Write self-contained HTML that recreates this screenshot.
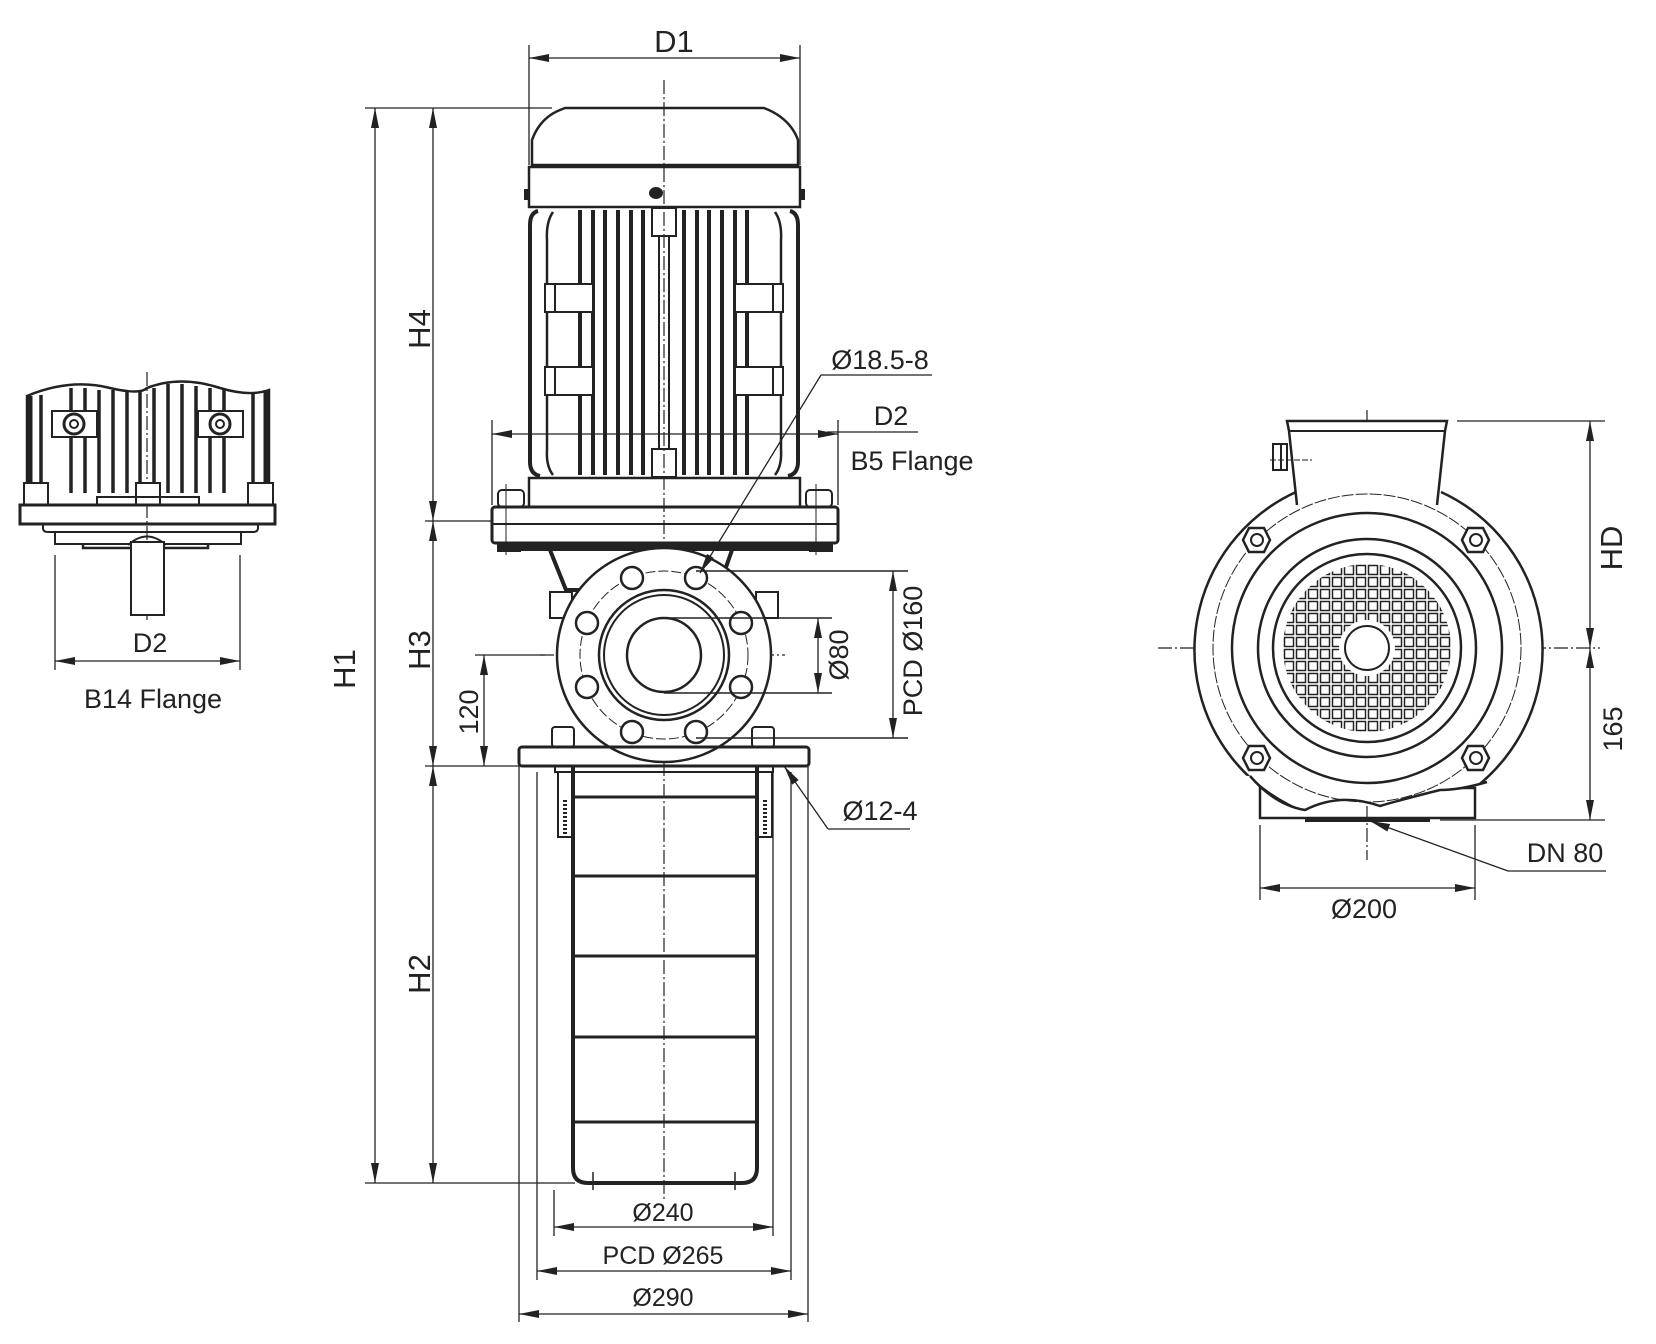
<!DOCTYPE html>
<html><head><meta charset="utf-8"><style>
html,body{margin:0;padding:0;background:#fff}
svg{display:block}
text{font-family:"Liberation Sans",Arial,sans-serif;fill:#222}
</style></head><body>
<svg width="1656" height="1344" viewBox="0 0 1656 1344" xmlns="http://www.w3.org/2000/svg">
<defs>
<marker id="b" viewBox="0 0 20 8" refX="20" refY="4" markerWidth="20" markerHeight="8" orient="auto-start-reverse" markerUnits="userSpaceOnUse"><path d="M0,0 L20,4 L0,8 z" fill="#222"/></marker>
<pattern id="grid" x="1283" y="564" width="12" height="12" patternUnits="userSpaceOnUse"><rect x="1.5" y="1.5" width="9" height="9" fill="#fff" stroke="#222" stroke-width="1.5"/></pattern>
<clipPath id="gc"><circle cx="1367" cy="648" r="84"/></clipPath>
<clipPath id="wc"><path d="M1100,380 L1650,380 L1650,780 L1487,782 Q1460,790 1440,790 Q1400,800 1380,806 Q1340,792 1305,810 Q1275,805 1250,776 L1100,770 Z"/></clipPath>
</defs>
<g fill="none" stroke="#222" stroke-width="2">

<g stroke-width="1.2" stroke-dasharray="14 3 2 3">
<line x1="664" y1="80" x2="664" y2="1200"/>
<line x1="147" y1="372" x2="147" y2="620"/>
<line x1="1367" y1="410" x2="1367" y2="860"/>
<line x1="1158" y1="648" x2="1600" y2="648"/>
<line x1="540" y1="655" x2="785" y2="655"/>
</g>

<path d="M532,165 L532,140 Q540,118 560,110 L565,108 L764,108 Q790,118 798,140 L798,165 Z" stroke-width="2.5"/>
<rect x="529" y="167" width="271" height="40" stroke-width="2.5"/>
<ellipse cx="656" cy="193" rx="6" ry="5" fill="#222"/>
<rect x="525" y="190" width="4" height="9" fill="#222"/><rect x="800" y="190" width="4" height="9" fill="#222"/>
<path d="M538,211 Q530,213 530,225 L530,462 Q530,474 540,476" stroke-width="4"/>
<path d="M790,211 Q798,213 798,225 L798,462 Q798,474 788,476" stroke-width="4"/>
<path d="M553,212 Q546,222 547,240 L547,450 Q546,466 553,475" stroke-width="2.5"/>
<path d="M775,212 Q782,222 781,240 L781,450 Q782,466 775,475" stroke-width="2.5"/>
<g stroke-width="4">
<line x1="580" y1="210" x2="580" y2="475"/><line x1="593" y1="210" x2="593" y2="475"/><line x1="605" y1="210" x2="605" y2="475"/><line x1="618" y1="210" x2="618" y2="475"/><line x1="631" y1="210" x2="631" y2="475"/><line x1="643" y1="210" x2="643" y2="475"/>
<line x1="684" y1="210" x2="684" y2="475"/><line x1="697" y1="210" x2="697" y2="475"/><line x1="709" y1="210" x2="709" y2="475"/><line x1="722" y1="210" x2="722" y2="475"/><line x1="735" y1="210" x2="735" y2="475"/><line x1="747" y1="210" x2="747" y2="475"/>
</g>
<rect x="652" y="208" width="24" height="28"/><rect x="652" y="449" width="24" height="28"/>
<line x1="659" y1="236" x2="659" y2="449"/><line x1="669" y1="236" x2="669" y2="449"/>
<rect x="545" y="284" width="48" height="28" fill="#fff"/><rect x="545" y="367" width="48" height="28" fill="#fff"/>
<rect x="735" y="284" width="48" height="28" fill="#fff"/><rect x="735" y="367" width="48" height="28" fill="#fff"/>
<line x1="555" y1="284" x2="555" y2="312"/><line x1="555" y1="367" x2="555" y2="395"/>
<line x1="773" y1="284" x2="773" y2="312"/><line x1="773" y1="367" x2="773" y2="395"/>
<rect x="529" y="478" width="271" height="29" stroke-width="2.5"/>
<rect x="492" y="507" width="346" height="36" rx="3" stroke-width="3"/>
<line x1="492" y1="524" x2="838" y2="524"/>
<rect x="498" y="490" width="26" height="17" rx="4"/><rect x="806" y="490" width="26" height="17" rx="4"/>
<line x1="506" y1="484" x2="506" y2="555" stroke-width="1"/><line x1="816" y1="484" x2="816" y2="555" stroke-width="1"/>
<rect x="498" y="543" width="22" height="8" fill="#222"/><rect x="810" y="543" width="22" height="8" fill="#222"/>
<rect x="520" y="545" width="290" height="5" fill="#222"/>
<path d="M550,550 L566,590 L580,590 M732,550 L718,590 L704,590" stroke-width="4"/>
<rect x="550" y="592" width="22" height="26"/><rect x="756" y="592" width="22" height="26"/>

<circle cx="664" cy="655" r="107" fill="#fff" stroke-width="2.5"/>
<circle cx="664" cy="655" r="84" stroke-width="1" stroke-dasharray="10 3"/>
<circle cx="664" cy="655" r="65" stroke-width="2.5"/>
<circle cx="664" cy="655" r="60" stroke-width="2"/>
<circle cx="664" cy="655" r="37" stroke-width="2.5"/>
<g stroke-width="2.5" fill="#fff">
<circle cx="696" cy="578" r="11"/><circle cx="632" cy="578" r="11"/>
<circle cx="741" cy="623" r="11"/><circle cx="741" cy="687" r="11"/>
<circle cx="696" cy="732" r="11"/><circle cx="632" cy="732" r="11"/>
<circle cx="587" cy="687" r="11"/><circle cx="587" cy="623" r="11"/>
</g>
<line x1="664" y1="618" x2="832" y2="618" stroke-width="1.5"/>
<line x1="664" y1="693" x2="832" y2="693" stroke-width="1.5"/>
<line x1="696" y1="571" x2="908" y2="571" stroke-width="1.5"/>
<line x1="696" y1="738" x2="908" y2="738" stroke-width="1.5"/>

<rect x="519" y="747" width="290" height="19" rx="3" stroke-width="3"/>
<rect x="552" y="727" width="22" height="20" rx="3"/><rect x="752" y="727" width="22" height="20" rx="3"/>
<rect x="555" y="766" width="218" height="6"/>
<path d="M573,766 L573,1168 Q573,1183 588,1183 L742,1183 Q757,1183 757,1168 L757,766" stroke-width="4"/>
<line x1="573" y1="797" x2="757" y2="797" stroke-width="3"/>
<line x1="573" y1="876" x2="757" y2="876" stroke-width="3"/>
<line x1="573" y1="956" x2="757" y2="956" stroke-width="3"/>
<line x1="573" y1="1037" x2="757" y2="1037" stroke-width="3"/>
<line x1="573" y1="1122" x2="757" y2="1122" stroke-width="3"/>
<rect x="558" y="772" width="14" height="65"/><rect x="758" y="772" width="14" height="65"/>
<line x1="565" y1="800" x2="565" y2="835" stroke-width="4" stroke-dasharray="2 2"/>
<line x1="765" y1="800" x2="765" y2="835" stroke-width="4" stroke-dasharray="2 2"/>
<line x1="593" y1="1172" x2="593" y2="1190" stroke-width="1.5"/><line x1="735" y1="1172" x2="735" y2="1190" stroke-width="1.5"/>

<g stroke-width="1.3">
<line x1="529" y1="45" x2="529" y2="165"/><line x1="800" y1="45" x2="800" y2="165"/>
<line x1="529" y1="58" x2="800" y2="58" marker-start="url(#b)" marker-end="url(#b)"/>
<line x1="365" y1="108" x2="552" y2="108"/>
<line x1="375" y1="108" x2="375" y2="1183" marker-start="url(#b)" marker-end="url(#b)"/>
<line x1="433" y1="108" x2="433" y2="521" marker-start="url(#b)" marker-end="url(#b)"/>
<line x1="433" y1="521" x2="433" y2="766" marker-start="url(#b)" marker-end="url(#b)"/>
<line x1="433" y1="766" x2="433" y2="1183" marker-start="url(#b)" marker-end="url(#b)"/>
<line x1="425" y1="521" x2="492" y2="521"/>
<line x1="425" y1="766" x2="519" y2="766"/>
<line x1="365" y1="1183" x2="575" y2="1183"/>
<line x1="475" y1="655" x2="545" y2="655"/>
<line x1="484" y1="655" x2="484" y2="766" marker-start="url(#b)" marker-end="url(#b)"/>
<line x1="818" y1="618" x2="818" y2="693" marker-start="url(#b)" marker-end="url(#b)"/>
<line x1="893" y1="571" x2="893" y2="738" marker-start="url(#b)" marker-end="url(#b)"/>
<line x1="492" y1="420" x2="492" y2="505"/><line x1="838" y1="420" x2="838" y2="505"/>
<line x1="492" y1="434" x2="838" y2="434" marker-start="url(#b)" marker-end="url(#b)"/>
<line x1="827" y1="432" x2="918" y2="432"/>
<line x1="821" y1="375" x2="932" y2="375"/>
<line x1="821" y1="375" x2="700" y2="573" marker-end="url(#b)"/>
<line x1="784" y1="766" x2="828" y2="829" marker-start="url(#b)"/>
<line x1="828" y1="829" x2="910" y2="829"/>
<line x1="554" y1="1190" x2="554" y2="1236"/><line x1="773" y1="772" x2="773" y2="1236"/>
<line x1="554" y1="1227" x2="773" y2="1227" marker-start="url(#b)" marker-end="url(#b)"/>
<line x1="537" y1="772" x2="537" y2="1280"/><line x1="791" y1="772" x2="791" y2="1280"/>
<line x1="537" y1="1271" x2="791" y2="1271" marker-start="url(#b)" marker-end="url(#b)"/>
<line x1="519" y1="766" x2="519" y2="1322"/><line x1="808" y1="766" x2="808" y2="1322"/>
<line x1="519" y1="1314" x2="808" y2="1314" marker-start="url(#b)" marker-end="url(#b)"/>
</g>

<path d="M27,505 L27,396 Q70,378 110,388 Q140,395 147,388 Q180,375 220,388 Q250,397 269,390 L269,505" stroke-width="2.5"/>
<line x1="30" y1="396" x2="30" y2="483" stroke-width="5"/><line x1="266" y1="390" x2="266" y2="483" stroke-width="5"/>
<g stroke-width="3.5">
<line x1="41" y1="395" x2="41" y2="483"/><line x1="71" y1="388" x2="71" y2="493"/><line x1="85" y1="388" x2="85" y2="493"/><line x1="99" y1="390" x2="99" y2="493"/><line x1="113" y1="390" x2="113" y2="493"/><line x1="127" y1="392" x2="127" y2="493"/><line x1="140" y1="390" x2="140" y2="493"/>
<line x1="154" y1="388" x2="154" y2="493"/><line x1="168" y1="384" x2="168" y2="493"/><line x1="182" y1="384" x2="182" y2="493"/><line x1="196" y1="386" x2="196" y2="493"/><line x1="210" y1="388" x2="210" y2="493"/><line x1="224" y1="390" x2="224" y2="493"/><line x1="253" y1="392" x2="253" y2="483"/>
</g>
<rect x="52" y="411" width="45" height="26" fill="#fff"/><circle cx="74" cy="424" r="10" stroke-width="3" fill="#fff"/><circle cx="74" cy="424" r="4"/>
<rect x="198" y="411" width="45" height="26" fill="#fff"/><circle cx="220" cy="424" r="10" stroke-width="3" fill="#fff"/><circle cx="220" cy="424" r="4"/>
<rect x="24" y="483" width="24" height="22" fill="#fff"/><rect x="136" y="483" width="24" height="22" fill="#fff"/><rect x="248" y="483" width="25" height="22" fill="#fff"/>
<rect x="97" y="497" width="102" height="8"/>
<rect x="20" y="505" width="255" height="19" stroke-width="3"/>
<path d="M43,524 L43,528 Q43,532 48,532 L253,532 Q258,532 258,528 L258,524"/>
<path d="M55,532 L55,544 L241,544 L241,532"/>
<path d="M83,544 L83,548 L208,548 L208,544" stroke-width="2.5"/>
<path d="M128,545 Q147,528 166,545"/>
<rect x="131" y="542" width="33" height="73" fill="#fff"/>
<g stroke-width="1.3">
<line x1="55" y1="555" x2="55" y2="670"/><line x1="240" y1="555" x2="240" y2="670"/>
<line x1="55" y1="661" x2="240" y2="661" marker-start="url(#b)" marker-end="url(#b)"/>
</g>

<rect x="1260" y="788" width="215" height="30" stroke-width="2.5"/>
<line x1="1305" y1="820" x2="1430" y2="820" stroke-width="4"/>
<g clip-path="url(#wc)">
<path d="M1296,492 A174,174 0 1 0 1441,492" stroke-width="2.5" fill="#fff"/>
</g>
<path d="M1250,776 Q1275,805 1305,810 Q1340,792 1380,806 Q1400,800 1440,790 Q1460,790 1487,782" stroke-width="2.5"/>
<path d="M1297,505 L1289,431 L1287,421 L1447,421 L1445,431 L1437,505" stroke-width="2.5" fill="#fff"/>
<line x1="1289" y1="431" x2="1445" y2="431"/>
<rect x="1273" y="444" width="8" height="26"/><rect x="1281" y="444" width="6" height="26"/>
<line x1="1270" y1="460" x2="1312" y2="460" stroke-width="1" stroke-dasharray="6 2"/>
<circle cx="1367" cy="648" r="154" stroke-width="1" stroke-dasharray="12 2"/>
<circle cx="1367" cy="648" r="135" stroke-width="2.5"/>
<circle cx="1367" cy="648" r="109" stroke-width="2.5"/>
<circle cx="1367" cy="648" r="94" stroke-width="2.5"/>
<rect x="1283" y="564" width="168" height="168" fill="url(#grid)" stroke="none" clip-path="url(#gc)"/>
<circle cx="1367" cy="648" r="28" fill="#fff" stroke="none"/>
<circle cx="1367" cy="648" r="22" fill="#fff" stroke-width="2"/>
<g stroke-width="2.5" fill="#fff">
<polygon points="1249,528 1264,528 1270,540 1264,552 1249,552 1243,540"/>
<polygon points="1468,528 1483,528 1489,540 1483,552 1468,552 1462,540"/>
<polygon points="1249,746 1264,746 1270,758 1264,770 1249,770 1243,758"/>
<polygon points="1468,746 1483,746 1489,758 1483,770 1468,770 1462,758"/>
</g>
<g stroke-width="2"><circle cx="1257" cy="540" r="6"/><circle cx="1476" cy="540" r="6"/><circle cx="1257" cy="758" r="6"/><circle cx="1476" cy="758" r="6"/></g>
<g stroke-width="1.3">
<line x1="1457" y1="421" x2="1605" y2="421"/>
<line x1="1440" y1="820" x2="1605" y2="820"/>
<line x1="1590" y1="421" x2="1590" y2="648" marker-start="url(#b)" marker-end="url(#b)"/>
<line x1="1590" y1="648" x2="1590" y2="820" marker-start="url(#b)" marker-end="url(#b)"/>
<line x1="1260" y1="825" x2="1260" y2="900"/><line x1="1475" y1="825" x2="1475" y2="900"/>
<line x1="1260" y1="888" x2="1475" y2="888" marker-start="url(#b)" marker-end="url(#b)"/>
<line x1="1508" y1="871" x2="1370" y2="821" marker-end="url(#b)"/>
<line x1="1508" y1="871" x2="1606" y2="871"/>
</g>
</g>

<g font-size="31">
<text x="674" y="52" text-anchor="middle">D1</text>
<text transform="translate(355,669) rotate(-90)" text-anchor="middle">H1</text>
<text transform="translate(430,329) rotate(-90)" text-anchor="middle">H4</text>
<text transform="translate(430,650) rotate(-90)" text-anchor="middle">H3</text>
<text transform="translate(430,974) rotate(-90)" text-anchor="middle">H2</text>
<text transform="translate(1622,548) rotate(-90)" text-anchor="middle">HD</text>
</g>
<g font-size="27">
<text transform="translate(478,712) rotate(-90)" text-anchor="middle">120</text>
<text transform="translate(848,655) rotate(-90)" text-anchor="middle">Ø80</text>
<text transform="translate(922,651) rotate(-90)" text-anchor="middle">PCD Ø160</text>
<text transform="translate(1622,729) rotate(-90)" text-anchor="middle">165</text>
<text x="880" y="369" text-anchor="middle">Ø18.5-8</text>
<text x="891" y="425" text-anchor="middle">D2</text>
<text x="912" y="470" text-anchor="middle">B5 Flange</text>
<text x="880" y="820" text-anchor="middle">Ø12-4</text>
<text x="150" y="652" text-anchor="middle">D2</text>
<text x="153" y="708" text-anchor="middle">B14 Flange</text>
<text x="1565" y="862" text-anchor="middle">DN 80</text>
<text x="1364" y="918" text-anchor="middle">Ø200</text>
</g>
<g font-size="25">
<text x="663" y="1221" text-anchor="middle">Ø240</text>
<text x="663" y="1264" text-anchor="middle">PCD Ø265</text>
<text x="663" y="1306" text-anchor="middle">Ø290</text>
</g>
</svg>
</body></html>
